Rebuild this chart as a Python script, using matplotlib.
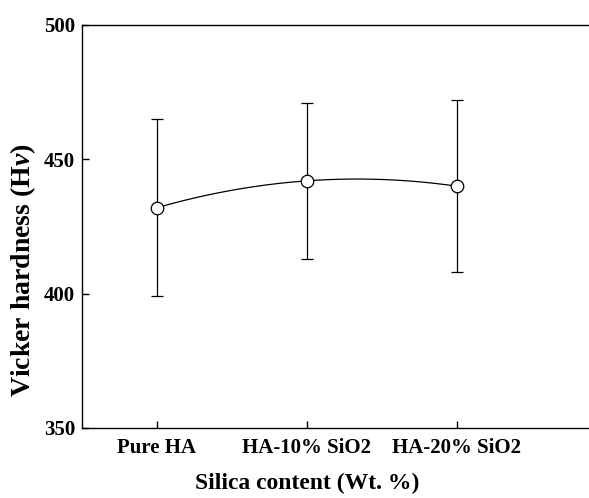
import matplotlib.pyplot as plt
import numpy as np

# Datos
categories = ['Pure HA', 'HA-10% SiO2', 'HA-20% SiO2']
hardness = [432, 442, 440]
hardness_err = [33, 29, 32]
y_ticks = [350, 400, 450, 500]

plt.rcParams['font.family'] = ['Liberation Serif', 'DejaVu Serif']
plt.rcParams['font.weight'] = 'bold'
plt.rcParams['mathtext.fontset'] = 'custom'
plt.rcParams['mathtext.it'] = 'Liberation Serif:italic:bold'
plt.rcParams['mathtext.rm'] = 'Liberation Serif:bold'

fig = plt.figure(figsize=(5.89, 4.98), dpi=100)
ax = fig.add_axes([82 / 589, 70 / 498, 1 - 82 / 589, 403 / 498])

x = np.arange(len(categories))

# Curva suave por los tres puntos (como el trazo spline del original)
coef = np.polyfit(x, hardness, 2)
xs = np.linspace(x[0], x[-1], 200)
ax.plot(xs, np.polyval(coef, xs), color='black', lw=0.9, zorder=2)

ax.errorbar(x, hardness, yerr=hardness_err, fmt='none', ecolor='black',
            elinewidth=0.9, capsize=4, capthick=0.9, zorder=1)
ax.plot(x, hardness, 'o', ms=9, mfc='white', mec='black', mew=0.9, zorder=3)

ax.set_xlim(-0.5, 2.88)
ax.set_ylim(350, 500)
ax.set_yticks(y_ticks)
ax.set_xticks(x)
ax.set_xticklabels(categories)

ax.tick_params(direction='in', length=5, width=1, labelsize=15)
ax.tick_params(axis='y', pad=5)
ax.tick_params(axis='x', pad=7)
for side in ['left', 'bottom', 'top']:
    ax.spines[side].set_linewidth(1.0)
ax.spines['right'].set_visible(False)

ax.set_xlabel('Silica content (Wt. %)', fontsize=17, fontweight='bold')
ax.xaxis.set_label_coords(0.444, -0.112)
ax.set_ylabel(r'Vicker hardness (H$\mathit{\nu}$)', fontsize=20, fontweight='bold')
ax.yaxis.set_label_coords(-0.087, 0.392)

plt.savefig('out.png', dpi=100)
